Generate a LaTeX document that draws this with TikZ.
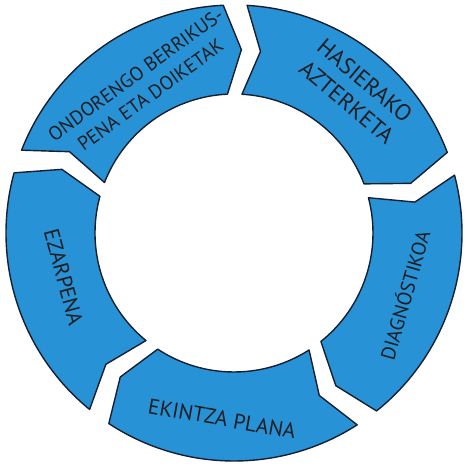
\documentclass[tikz,border=0pt]{standalone}
\usepackage{fontspec}
\setmainfont{PT Sans}
\usepackage{tikz}
\definecolor{cycleblue}{RGB}{40,146,214}
\definecolor{rimline}{RGB}{22,32,48}
\definecolor{labelink}{RGB}{30,30,34}

\begin{document}
\begin{tikzpicture}[x=1pt, y=1pt,
        segment/.style={fill=cycleblue, draw=rimline, line width=1.4pt, line join=round},
        steplabel/.style={text=labelink, align=center, inner sep=0pt, font=\fontsize{21.5}{26}\selectfont}]
            \useasboundingbox (-234, -233) rectangle (231, 233);
            % five arc arrows, clockwise
            \draw[segment] (86.7:228) arc[start angle=86.7, end angle=20.7, radius=228] -- (15.7:183.5) -- (20.7:139) arc[start angle=20.7, end angle=86.7, radius=139] -- (81.7:183.5) -- cycle;
            \draw[segment] (14.7:228) arc[start angle=14.7, end angle=-51.3, radius=228] -- (-56.3:183.5) -- (-51.3:139) arc[start angle=-51.3, end angle=14.7, radius=139] -- (9.7:183.5) -- cycle;
            \draw[segment] (-57.3:228) arc[start angle=-57.3, end angle=-123.3, radius=228] -- (-128.3:183.5) -- (-123.3:139) arc[start angle=-123.3, end angle=-57.3, radius=139] -- (-62.3:183.5) -- cycle;
            \draw[segment] (-129.3:228) arc[start angle=-129.3, end angle=-195.3, radius=228] -- (-200.3:183.5) -- (-195.3:139) arc[start angle=-195.3, end angle=-129.3, radius=139] -- (-134.3:183.5) -- cycle;
            \draw[segment] (158.7:228) arc[start angle=158.7, end angle=92.7, radius=228] -- (87.7:183.5) -- (92.7:139) arc[start angle=92.7, end angle=158.7, radius=139] -- (153.7:183.5) -- cycle;
            % labels
            \node[steplabel, rotate=-40, font=\fontsize{23}{28}\selectfont] (hasiera) at (49.3:187) {HASIERAKO\\AZTERKETA};
            \node[steplabel, rotate=74, font=\fontsize{20}{24}\selectfont] (diagnostikoa) at (-20.1:181) {DIAGNÓSTIKOA};
            \node[steplabel, rotate=-10] (ekintza) at (-93.7:186) {EKINTZA PLANA};
            \node[steplabel, rotate=-75] (ezarpena) at (194.6:176) {EZARPENA};
            \node[steplabel, rotate=36, font=\fontsize{19.5}{25}\selectfont] (ondorengo) at (121.5:174) {ONDORENGO BERRIKUS-\\PENA ETA DOIKETAK};
        \end{tikzpicture}
\end{document}
